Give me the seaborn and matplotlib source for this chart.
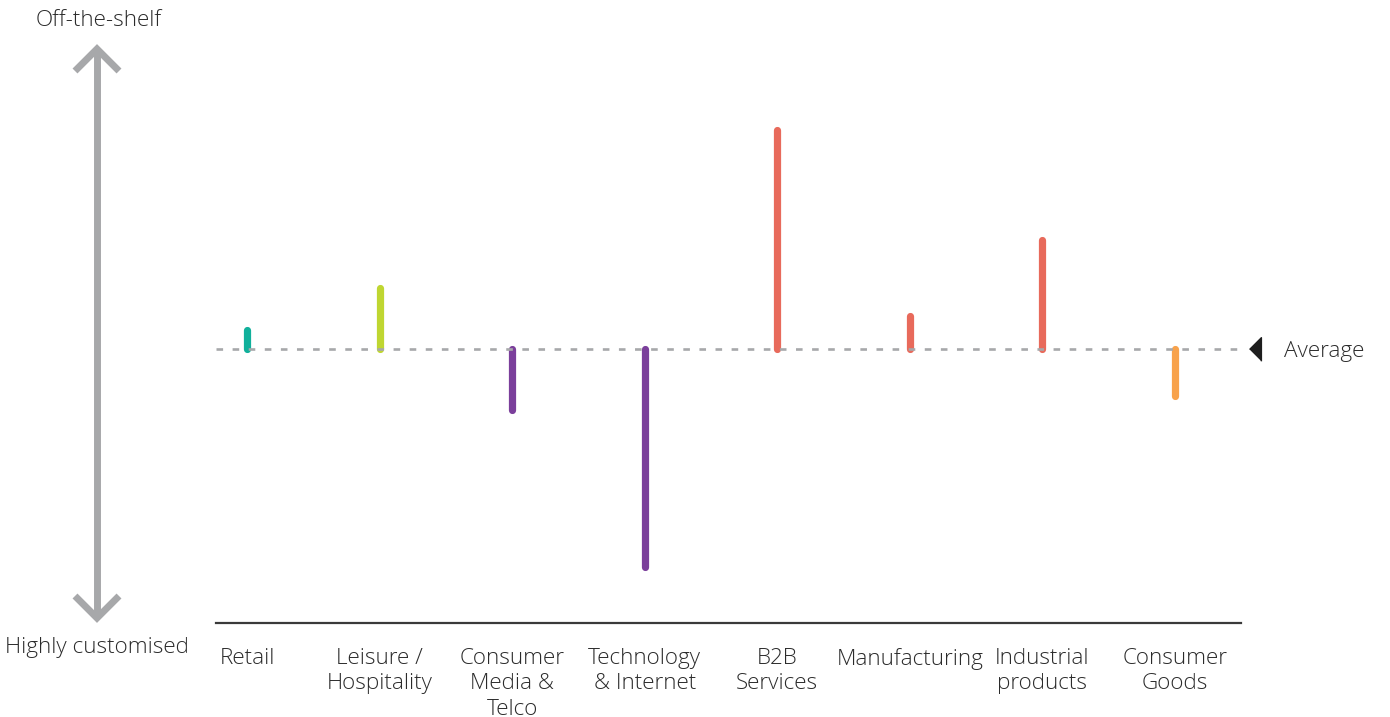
import matplotlib
matplotlib.use("Agg")
import matplotlib.pyplot as plt
from matplotlib.lines import Line2D
import pandas as pd
import seaborn as sns

# Sector deviation from the average position (positive = off-the-shelf)
sectors = ["Retail", "Leisure /\nHospitality", "Consumer\nMedia &\nTelco",
           "Technology\n& Internet", "B2B\nServices", "Manufacturing",
           "Industrial\nproducts", "Consumer\nGoods"]
deviation = [19, 61, -61, -218, 219, 33, 109, -47]
sector_colors = ["#10b09b", "#bfd631", "#7b3f9b", "#7b3f9b",
                 "#e86a5b", "#e86a5b", "#e86a5b", "#f8a24b"]

sns.set_theme(style="white")
plt.rcParams["font.family"] = ["Open Sans", "DejaVu Sans"]
plt.rcParams["font.weight"] = "light"

TEXT = "#2b2b2b"
GREY = "#a7a8aa"
FS = 16.2

# each sector becomes a two-point segment: from the average (0) to its value
rows = []
for s, v in zip(sectors, deviation):
    rows.append({"sector": s, "value": 0})
    rows.append({"sector": s, "value": v})
df = pd.DataFrame(rows)

fig = plt.figure(figsize=(13.9, 7.17), dpi=100)
ax = fig.add_axes([216 / 1390, 94 / 717, 1025 / 1390, 583 / 717])

sns.lineplot(data=df, x="sector", y="value", hue="sector",
             palette=dict(zip(sectors, sector_colors)), estimator=None,
             sort=False, legend=False, linewidth=5.2,
             solid_capstyle="round", ax=ax, zorder=2)

# average reference line
ax.axhline(0, color=GREY, lw=1.9, linestyle=(0, (2.5, 3.6)), zorder=3)

ax.set_xlim(-0.234, 7.498)
ax.set_ylim(-274, 309)
ax.set_xlabel("")
ax.set_ylabel("")
ax.set_yticks([])
ax.set_xticks(range(len(sectors)))
ax.set_xticklabels(sectors, fontsize=FS, color=TEXT, linespacing=1.27)
ax.tick_params(axis="x", length=0, pad=18)
for side in ["top", "left", "right"]:
    ax.spines[side].set_visible(False)
ax.spines["bottom"].set_color("#3a3a3a")
ax.spines["bottom"].set_linewidth(1.6)

# average marker and label
ax.plot([7.6], [0], marker=[(-0.5, 0), (0.5, 1), (0.5, -1)], markersize=17,
        color="#1e1e1e", clip_on=False, linestyle="none")
ax.annotate("Average", xy=(7.6, 0), xytext=(21, -1.5), textcoords="offset points",
            ha="left", va="center", fontsize=FS, color=TEXT,
            annotation_clip=False)

# vertical scale arrow on the left
def fy(py):
    return 1 - py / 717

def fx(px):
    return px / 1390

arrow_kw = dict(color=GREY, lw=5, transform=fig.transFigure,
                solid_capstyle="butt", solid_joinstyle="miter")
fig.add_artist(Line2D([fx(97), fx(97)], [fy(49), fy(618)], **arrow_kw))
fig.add_artist(Line2D([fx(75), fx(97), fx(119)], [fy(71), fy(49), fy(71)], **arrow_kw))
fig.add_artist(Line2D([fx(75), fx(97), fx(119)], [fy(596), fy(618), fy(596)], **arrow_kw))

fig.text(fx(99), fy(21), "Off-the-shelf", ha="center", va="center",
         fontsize=FS, color=TEXT)
fig.text(fx(97), fy(647), "Highly customised", ha="center", va="center",
         fontsize=FS, color=TEXT)

fig.savefig("out.png", dpi=100, facecolor="white")
